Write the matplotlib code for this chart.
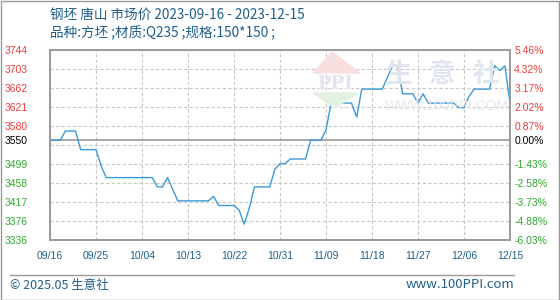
import pandas as pd
import matplotlib
matplotlib.use("Agg")
import matplotlib.pyplot as plt
import matplotlib.dates as mdates
from matplotlib.patches import Polygon, Rectangle
from matplotlib.lines import Line2D

# price turning points (billet, Tangshan), yuan/ton
dates = ["2023-09-16", "2023-09-18", "2023-09-19", "2023-09-21", "2023-09-22", "2023-09-25",
         "2023-09-26", "2023-09-27", "2023-10-06", "2023-10-07", "2023-10-08", "2023-10-09",
         "2023-10-10", "2023-10-11", "2023-10-17", "2023-10-18", "2023-10-19", "2023-10-22",
         "2023-10-23", "2023-10-24", "2023-10-25", "2023-10-26", "2023-10-29", "2023-10-30",
         "2023-10-31", "2023-11-01", "2023-11-02", "2023-11-05", "2023-11-06", "2023-11-08",
         "2023-11-09", "2023-11-10", "2023-11-14", "2023-11-15", "2023-11-16", "2023-11-20",
         "2023-11-21", "2023-11-22", "2023-11-23", "2023-11-24", "2023-11-26", "2023-11-27",
         "2023-11-28", "2023-11-29", "2023-12-04", "2023-12-05", "2023-12-06", "2023-12-07",
         "2023-12-08", "2023-12-11", "2023-12-12", "2023-12-13", "2023-12-14", "2023-12-15"]
prices = [3550, 3550, 3570, 3570, 3530, 3530,
          3495, 3470, 3470, 3450, 3450, 3470,
          3445, 3420, 3420, 3430, 3410, 3410,
          3400, 3370, 3405, 3450, 3450, 3488,
          3500, 3500, 3510, 3510, 3550, 3550,
          3572, 3630, 3630, 3600, 3660, 3660,
          3685, 3710, 3710, 3650, 3650, 3630,
          3650, 3630, 3630, 3620, 3620, 3645,
          3660, 3660, 3710, 3700, 3710, 3630]

base_price = 3550
y_min, y_max = 3336, 3744
x_ticks = ["2023-09-16", "2023-09-25", "2023-10-04", "2023-10-13", "2023-10-22", "2023-10-31",
           "2023-11-09", "2023-11-18", "2023-11-27", "2023-12-06", "2023-12-15"]

title1 = "钢坯 唐山 市场价 2023-09-16 - 2023-12-15"
title2 = "品种:方坯 ;材质:Q235 ;规格:150*150 ;"

blue_txt = "#1f5f8b"
red = "#f03c3c"
green = "#2eaa2e"
cjk = ["Noto Sans CJK SC", "DejaVu Sans"]
num_font = "Liberation Sans"

fig = plt.figure(figsize=(5.6, 3.0), dpi=100)
W, H = 560.0, 300.0
ax = fig.add_axes([50 / W, 1 - 240 / H, 460 / W, 190 / H])

x = pd.to_datetime(dates)
ax.plot(x, prices, color="#3a9ad9", lw=1.0, zorder=5)

xt = pd.to_datetime(x_ticks)
ax.set_xlim(xt[0], xt[-1])
ax.set_ylim(y_min, y_max)

# grid: 11 evenly spaced levels
step = (y_max - y_min) / 10
levels = [y_max - i * step for i in range(11)]
for v in levels:
    ax.axhline(v, color="#c8c8c8", lw=0.8, ls=(0, (3, 2)), zorder=1)
for d in xt:
    ax.axvline(d, color="#c8c8c8", lw=0.8, ls=(0, (3, 2)), zorder=1)
ax.axhline(base_price, color="#999999", lw=1.2, zorder=3)

# y labels (left: price, right: % change from base)
shown = [v for v in levels if abs(v - base_price) > step / 2] + [base_price]
ax.set_yticks(shown)
ax.set_yticklabels([str(int(v)) for v in shown])
ax.tick_params(axis="y", length=0, pad=16, labelsize=7.5)
for lab, v in zip(ax.get_yticklabels(), shown):
    lab.set_fontfamily(num_font)
    lab.set_color(red if v > base_price else (green if v < base_price else "black"))

ax2 = ax.twinx()
ax2.set_ylim(y_min, y_max)
ax2.set_yticks(shown)
ax2.set_yticklabels(["%.2f%%" % ((v - base_price) / base_price * 100) for v in shown])
ax2.tick_params(axis="y", length=0, pad=3, labelsize=7.5)
for lab, v in zip(ax2.get_yticklabels(), shown):
    lab.set_fontfamily(num_font)
    lab.set_color(red if v > base_price else (green if v < base_price else "black"))

ax.set_xticks(xt)
ax.xaxis.set_major_formatter(mdates.DateFormatter("%m/%d"))
ax.tick_params(axis="x", length=0, pad=8, labelsize=7.5, labelcolor=blue_txt)
for lab in ax.get_xticklabels():
    lab.set_fontfamily(num_font)

for a in (ax, ax2):
    for s in a.spines.values():
        s.set_color("#999999")
        s.set_linewidth(1.2)

# watermark
def fx(px):
    return px / W

def fy(py):
    return 1 - py / H

fig.patches.append(Polygon([(fx(313), fy(73)), (fx(332), fy(52)), (fx(360), fy(73))],
                           closed=True, transform=fig.transFigure, color="#f8e0e0", zorder=0))
fig.patches.append(Polygon([(fx(313), fy(93)), (fx(358), fy(93)), (fx(335), fy(108))],
                           closed=True, transform=fig.transFigure, color="#e2f2e2", zorder=0))
fig.text(fx(335), fy(84), "PPI", ha="center", va="center", fontsize=13, fontweight="bold",
         family="DejaVu Serif", color="#e0e5ef", zorder=0)
for i, ch in enumerate("生意社"):
    fig.text(fx(398 + i * 44), fy(75), ch, ha="center", va="center", fontsize=19,
             family=cjk, fontweight="bold", color="#e0e5ef", zorder=0)
fig.text(fx(447), fy(106), "WWW.100PPI.COM", ha="center", va="center", fontsize=10,
         family=num_font, color="#e8e8e8", zorder=0)
ax.set_facecolor("none")
ax2.set_facecolor("none")

# titles
fig.text(fx(50), fy(15), title1, ha="left", va="center", fontsize=9.8, family=cjk, color=blue_txt)
fig.text(fx(50), fy(33), title2, ha="left", va="center", fontsize=9.8, family=cjk, color=blue_txt)

# footer
fig.lines.append(Line2D([fx(10), fx(514)], [fy(275), fy(275)], transform=fig.transFigure,
                        color="#999999", lw=1.0))
fig.text(fx(10), fy(285), "© 2025.05 生意社", ha="left", va="center", fontsize=9,
         family=cjk, color=blue_txt)
fig.text(fx(514), fy(285), "www.100PPI.com", ha="right", va="center", fontsize=9.5,
         family=cjk, color=blue_txt)

# outer border
fig.patches.append(Rectangle((0.5 / W, 0.5 / H), 1 - 1.5 / W, 1 - 1.5 / H, transform=fig.transFigure,
                             fill=False, edgecolor="#999999", lw=1.0))

fig.savefig("out.png", dpi=100)
